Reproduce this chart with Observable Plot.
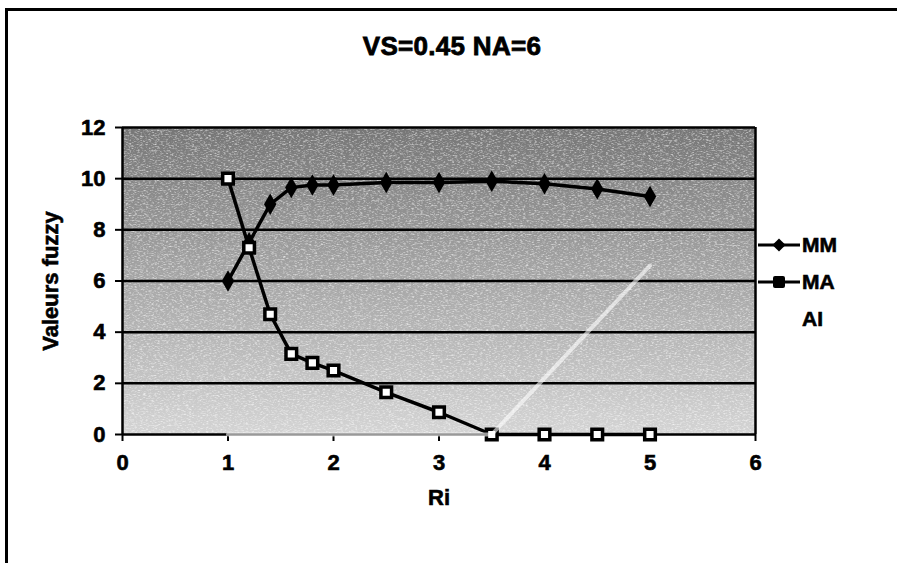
<!DOCTYPE html>
<html>
<head>
<meta charset="utf-8">
<script src="https://cdn.jsdelivr.net/npm/d3@7"></script>
<script src="https://cdn.jsdelivr.net/npm/@observablehq/plot@0.6"></script>
<style>
  html, body { margin: 0; padding: 0; background: #fff; overflow: hidden; }
  body { width: 897px; height: 563px; position: relative;
         font-family: "Liberation Sans", Arial, sans-serif; }
  #edge-left { position: absolute; left: 5px; top: 8px; width: 3px; height: 560px; background: #000; }
  #edge-top { position: absolute; left: 5px; top: 8px; width: 892px; height: 3px; background: #000; }
  #title { position: absolute; left: 0; top: 31px; width: 904px; text-align: center;
           font-weight: bold; font-size: 26px; letter-spacing: 0.3px; color: #000;
           -webkit-text-stroke: 0.8px #000; }
  #chart { position: absolute; left: 0; top: 80px; }
  #legend { position: absolute; left: 756px; top: 226px; }
  #legend .item { height: 37px; display: flex; align-items: center;
                  font-weight: bold; font-size: 21px; color: #000; -webkit-text-stroke: 0.6px #000; }
</style>
</head>
<body>
<div id="edge-left"></div>
<div id="edge-top"></div>
<div id="title">VS=0.45 NA=6</div>
<div id="chart"></div>
<div id="legend"></div>
<script>
// Ri values and the three fuzzy series
const ri = [1, 1.2, 1.4, 1.6, 1.8, 2, 2.5, 3, 3.5, 4, 4.5, 5];
const mm = [6, 7.5, 9, 9.65, 9.75, 9.75, 9.85, 9.85, 9.9, 9.8, 9.6, 9.3];
const ma = [10, 7.3, 4.7, 3.15, 2.8, 2.5, 1.65, 0.87, 0, 0, 0, 0];
const ai = [0, 0, 0, 0, 0, 0, 0, 0, 0, 2.2, 4.4, 6.6];

const xTicks = [0, 1, 2, 3, 4, 5, 6];
const yTicks = [0, 2, 4, 6, 8, 10, 12];
const seriesNames = ["MM", "MA", "AI"];

const rows = (vals) => ri.map((x, i) => ({x, y: vals[i]}));
const mmRows = rows(mm), maRows = rows(ma), aiRows = rows(ai);

const chart = Plot.plot({
  width: 897,
  height: 483,
  marginLeft: 122,
  marginRight: 142,
  marginTop: 47,
  marginBottom: 129,
  style: {fontFamily: "'Liberation Sans', Arial, sans-serif", fontWeight: "bold", fontSize: "22px", color: "#000", background: "transparent"},
  x: {domain: [0, 6]},
  y: {domain: [0, 12]},
  marks: [
    Plot.frame({fill: "url(#plotbg)", stroke: null}),
    Plot.frame({fill: "#fff", stroke: null}),
    Plot.ruleY(yTicks.filter(d => d > 0), {stroke: "#000", strokeWidth: 2.5}),
    Plot.ruleX([6], {stroke: "#000", strokeWidth: 2.5}),
    Plot.ruleX([0], {stroke: "#000", strokeWidth: 2.5}),
    Plot.ruleY([0], {stroke: "#000", strokeWidth: 2.5}),
    Plot.axisX({ticks: xTicks, tickFormat: d3.format("d"), tickSize: 7, tickPadding: 13, strokeWidth: 2, fontSize: 22,
      label: "Ri", labelAnchor: "center", labelOffset: 70, labelArrow: "none"}),
    Plot.axisY({ticks: yTicks, tickFormat: d3.format("d"), tickSize: 7, tickPadding: 10, strokeWidth: 2, fontSize: 22,
      label: "Valeurs fuzzy", labelAnchor: "center", labelOffset: 80, labelArrow: "none"}),
    // MM
    Plot.line(mmRows, {x: "x", y: "y", stroke: "#000", strokeWidth: 3.5}),
    Plot.dot(mmRows, {x: "x", y: "y", symbol: "diamond", r: 6.5, fill: "#000"}),
    // MA
    Plot.line(maRows, {x: "x", y: "y", stroke: "#000", strokeWidth: 3.5}),
    Plot.dot(maRows, {x: "x", y: "y", symbol: "square", r: 6, fill: "#fff", stroke: "#000", strokeWidth: 3.5}),
    // AI
    Plot.line(aiRows, {x: "x", y: "y", stroke: "#fff", strokeWidth: 4, strokeOpacity: 0.6})
  ]
});

const svg = d3.select(chart);
const defs = svg.insert("defs", ":first-child");
// grey plot-area fill, darker towards the top
const grad = defs.append("linearGradient")
  .attr("id", "plotbg").attr("x1", 0).attr("y1", 0).attr("x2", 0).attr("y2", 1);
grad.append("stop").attr("offset", "0%").attr("stop-color", "#767676");
grad.append("stop").attr("offset", "45%").attr("stop-color", "#a2a2a2");
grad.append("stop").attr("offset", "100%").attr("stop-color", "#d4d4d4");
// fine horizontal speckle over the fill
const grain = defs.append("filter").attr("id", "grain")
  .attr("x", 0).attr("y", 0).attr("width", 1).attr("height", 1);
grain.append("feTurbulence").attr("type", "fractalNoise")
  .attr("baseFrequency", "0.35 1.2").attr("numOctaves", 2).attr("seed", 4).attr("result", "n");
grain.append("feColorMatrix").attr("in", "n").attr("type", "matrix")
  .attr("values", "0 0 0 0 1  0 0 0 0 1  0 0 0 0 1  1.6 0 0 0 -0.75");
const frames = svg.selectAll("[aria-label=frame]").nodes();
if (frames.length > 1) d3.select(frames[1]).attr("filter", "url(#grain)");
svg.selectAll("text").style("font-weight", "bold")
  .style("stroke", "#000").style("stroke-width", "0.6px").style("paint-order", "stroke");

document.getElementById("chart").appendChild(chart);

// legend
const legend = d3.select("#legend");
seriesNames.forEach((name) => {
  const item = legend.append("div").attr("class", "item");
  const s = item.append("svg").attr("width", 46).attr("height", 20);
  if (name !== "AI") {
    s.append("line").attr("x1", 2).attr("x2", 44).attr("y1", 10).attr("y2", 10)
      .attr("stroke", "#000").attr("stroke-width", 3);
    if (name === "MM") {
      s.append("path").attr("d", d3.symbol(d3.symbolDiamond2, 110)())
        .attr("transform", "translate(23,10)").attr("fill", "#000");
    } else {
      s.append("rect").attr("x", 17).attr("y", 4).attr("width", 12).attr("height", 12)
        .attr("rx", 2).attr("fill", "#000");
    }
  }
  item.append("span").text(name);
});
</script>
</body>
</html>
